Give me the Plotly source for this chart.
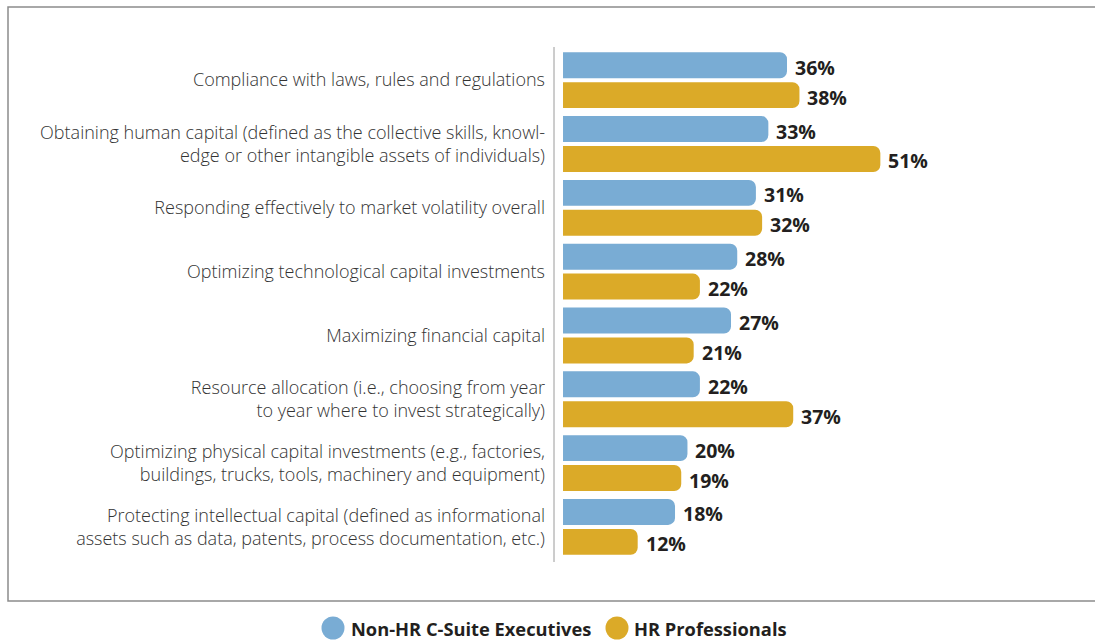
import plotly.graph_objects as go

categories = [
    "Compliance with laws, rules and regulations",
    "Obtaining human capital (defined as the collective skills, knowl-<br>edge or other intangible assets of individuals)",
    "Responding effectively to market volatility overall",
    "Optimizing technological capital investments",
    "Maximizing financial capital",
    "Resource allocation (i.e., choosing from year<br>to year where to invest strategically)",
    "Optimizing physical capital investments (e.g., factories,<br>buildings, trucks, tools, machinery and equipment)",
    "Protecting intellectual capital (defined as informational<br>assets such as data, patents, process documentation, etc.)",
]
non_hr_exec = [36, 33, 31, 28, 27, 22, 20, 18]
hr_pro = [38, 51, 32, 22, 21, 37, 19, 12]

series_names = ["Non-HR C-Suite Executives", "HR Professionals"]
BLUE = "#79ACD4"
GOLD = "#DBAA28"
TEXT = "#231F20"

# plot area geometry in pixels (used to place legend items in paper units)
PLOT_L, PLOT_W = 554, 541
PLOT_T, PLOT_H = 47, 515


def px_x(px):
    return (px - PLOT_L) / PLOT_W


def px_y(py):
    return (PLOT_T + PLOT_H - py) / PLOT_H


positions = list(range(len(categories)))

fig = go.Figure()
for name, vals, color in [(series_names[0], non_hr_exec, BLUE),
                          (series_names[1], hr_pro, GOLD)]:
    fig.add_trace(go.Bar(
        y=positions, x=vals, orientation="h", name=name,
        marker=dict(color=color, cornerradius=7, line=dict(width=0)),
        showlegend=False, hoverinfo="skip",
    ))

# value labels at the end of each bar
OFF = 15 / 63.9
annotations = []
for i in positions:
    for vals, dy in [(non_hr_exec, -OFF), (hr_pro, OFF)]:
        annotations.append(dict(
            x=vals[i], y=i + dy, xref="x", yref="y",
            text=f"<b>{vals[i]}%</b>", showarrow=False,
            xanchor="left", yanchor="middle", xshift=6, yshift=-2,
            font=dict(family="Open Sans", size=19.5, color=TEXT),
        ))

shapes = [
    # axis rule on the left of the bars
    dict(type="line", xref="paper", yref="paper", x0=0, x1=0, y0=0, y1=1,
         line=dict(color="#9A9A9A", width=1)),
    # outer frame
    dict(type="rect", xref="paper", yref="paper",
         x0=px_x(8), x1=1.02, y0=px_y(601), y1=px_y(7),
         line=dict(color="#8C8C8C", width=1.5), layer="below"),
]

# legend: round swatches followed by bold series names
legend_items = [(series_names[0], BLUE, 333, 349), (series_names[1], GOLD, 617, 632)]
for name, color, cx, tx in legend_items:
    shapes.append(dict(
        type="circle", xref="paper", yref="paper",
        xsizemode="pixel", ysizemode="pixel",
        xanchor=px_x(cx), yanchor=px_y(628),
        x0=-11.5, x1=11.5, y0=-11.5, y1=11.5,
        fillcolor=color, line=dict(width=0),
    ))
    annotations.append(dict(
        x=px_x(tx), y=px_y(628), xref="paper", yref="paper",
        text=f"<b>{name}</b>", showarrow=False,
        xanchor="left", yanchor="middle",
        font=dict(family="Open Sans", size=18.3, color=TEXT),
    ))

fig.update_layout(
    width=1095, height=641,
    margin=dict(l=PLOT_L, r=0, t=PLOT_T, b=641 - PLOT_T - PLOT_H),
    paper_bgcolor="white", plot_bgcolor="white",
    barmode="group", bargap=0.0625, bargroupgap=0.133,
    xaxis=dict(range=[-1.45, 85.5], showgrid=False, zeroline=False,
               showticklabels=False, showline=False, fixedrange=True),
    yaxis=dict(range=[7.55, -0.52], tickvals=positions, ticktext=categories,
               showgrid=False, zeroline=False, showline=False, ticks="",
               ticklabelstandoff=8,
               tickfont=dict(family="Open Sans", size=18, color="#333333",
                             weight=300)),
    annotations=annotations,
    shapes=shapes,
    showlegend=False,
)

fig.write_html("out.html")
